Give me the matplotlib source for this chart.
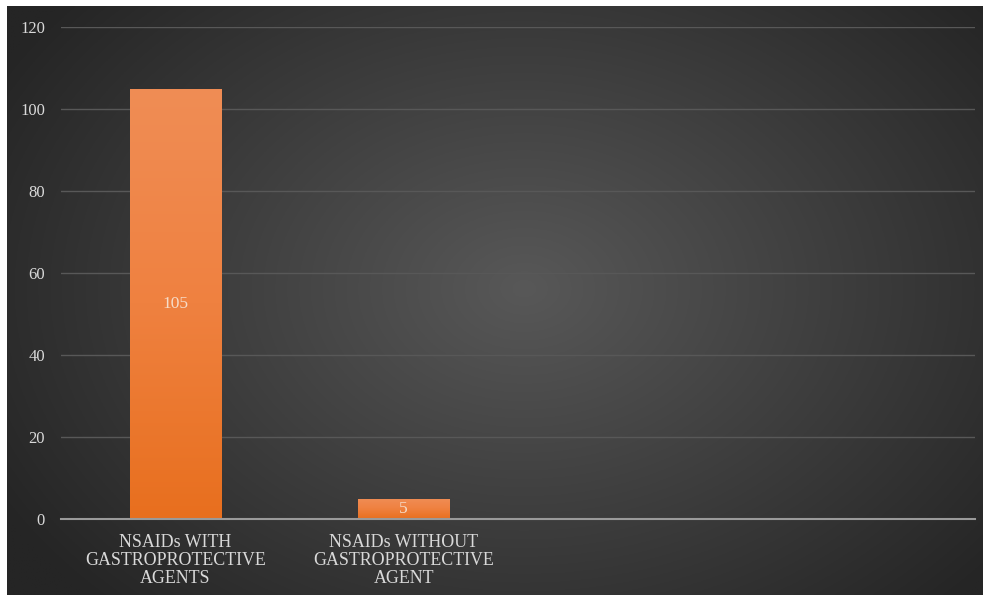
import numpy as np
import matplotlib
matplotlib.use("Agg")
import matplotlib.pyplot as plt
from matplotlib.colors import LinearSegmentedColormap

categories = ["NSAIDs WITH\nGASTROPROTECTIVE\nAGENTS",
              "NSAIDs WITHOUT\nGASTROPROTECTIVE\nAGENT"]
values = [105, 5]
y_ticks = [0, 20, 40, 60, 80, 100, 120]

W, H = 983, 595
fig = plt.figure(figsize=(W / 100, H / 100), dpi=100, facecolor="white")

# dark radial backdrop of the chart area
bg = fig.add_axes([7 / W, 0, 1 - 7 / W, 1 - 6 / H])
bg.set_axis_off()
gx, gy = np.meshgrid(np.linspace(0, 1, 600), np.linspace(0, 1, 400))
r = np.sqrt(((gx - 0.53) / 0.62) ** 2 + ((gy - 0.48) / 0.75) ** 2)
r = np.clip(r, 0, 1)
light = np.array([0x58, 0x58, 0x58]) / 255
dark = np.array([0x25, 0x25, 0x25]) / 255
img = light[None, None, :] * (1 - r[..., None]) + dark[None, None, :] * r[..., None]
bg.imshow(img, aspect="auto", extent=[0, 1, 0, 1], origin="upper")
bg.set_xlim(0, 1)
bg.set_ylim(0, 1)

ax = fig.add_axes([61 / W, (H - 519) / H, 914 / W, (519 - 27) / H])
ax.patch.set_alpha(0)

x = np.arange(len(categories))
bars = ax.bar(x, values, width=0.4, color="#EC7A30", zorder=3, edgecolor="none")

# vertical orange gradient within each bar
cmap = LinearSegmentedColormap.from_list("bar", ["#E86F1E", "#EF8140", "#F08D55"])
grad = np.linspace(0, 1, 256).reshape(-1, 1)
for b in bars:
    x0, y0 = b.get_x(), b.get_y()
    w, h = b.get_width(), b.get_height()
    im = ax.imshow(grad, cmap=cmap, aspect="auto", origin="lower",
                   extent=[x0, x0 + w, y0, y0 + h], zorder=3)
    im.set_clip_path(b)
    b.set_facecolor("none")

for xi, v in zip(x, values):
    ax.text(xi, v / 2, str(v), ha="center", va="center", color="#F6DCC8",
            fontsize=12.5, family="Liberation Serif", zorder=5)

ax.set_xlim(-0.5, 3.5)
ax.set_ylim(0, 120)
ax.set_yticks(y_ticks)
ax.set_xticks(x)
ax.set_xticklabels(categories, linespacing=1.1)
ax.tick_params(axis="both", length=0, colors="#D9D9D9", labelsize=12)
ax.tick_params(axis="x", pad=10.5, labelsize=12.9)
ax.tick_params(axis="y", pad=11.5)
for lab in ax.get_xticklabels() + ax.get_yticklabels():
    lab.set_family("Liberation Serif")

ax.grid(axis="y", color="#585858", linewidth=1.0, zorder=1)
ax.set_axisbelow(True)
for s in ["top", "right", "left"]:
    ax.spines[s].set_visible(False)
ax.spines["bottom"].set_color("#9A9A9A")
ax.spines["bottom"].set_linewidth(1.5)
ax.spines["bottom"].set_zorder(4)

fig.savefig("out.png", dpi=100, facecolor="white")
